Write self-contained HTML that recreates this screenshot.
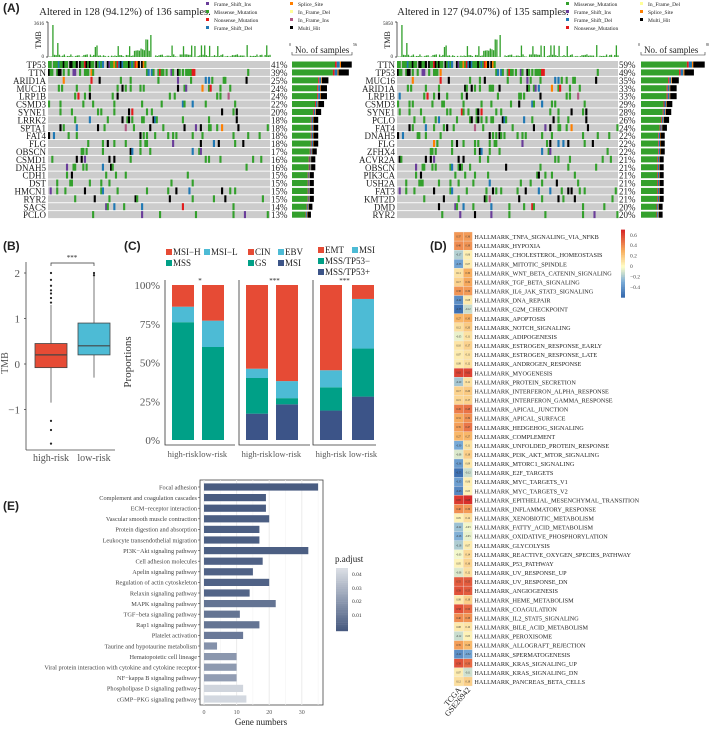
<!DOCTYPE html>
<html><head><meta charset="utf-8"><style>
html,body{margin:0;padding:0;background:#fff;}
svg{display:block;font-family:"Liberation Serif",serif;}
.pl{font-family:"Liberation Sans",sans-serif;font-weight:bold;font-size:12px;}
</style></head><body>
<svg id="fig" width="709" height="729" viewBox="0 0 709 729" xmlns="http://www.w3.org/2000/svg"></svg>
<script>
// ---------- data ----------
const genesA=["TP53","TTN","ARID1A","MUC16","LRP1B","CSMD3","SYNE1","LRRK2","SPTA1","FAT4","FLG","OBSCN","CSMD1","DNAH5","CDH1","DST","HMCN1","RYR2","SACS","PCLO"];
const pctA=[41,39,25,24,24,22,20,18,18,18,18,17,16,16,15,15,15,15,14,13];
const genesB=["TTN","TP53","MUC16","ARID1A","LRP1B","CSMD3","SYNE1","PCLO","FAT4","DNAH5","FLG","ZFHX4","ACVR2A","OBSCN","PIK3CA","USH2A","FAT3","KMT2D","DMD","RYR2"];
const pctB=[59,49,35,33,33,29,28,26,24,22,22,22,21,21,21,21,21,21,20,20];
const boxHigh=[-0.85,-0.08,0.2,0.45,1.3];
const boxLow=[-0.3,0.2,0.4,0.9,2.0];
const outHigh=[1.35,1.45,1.55,1.62,1.72,1.85,2.0,-1.25,-1.45,-1.75];
const c1High=[0.76,0.10,0.14], c1Low=[0.60,0.17,0.23];
const c2High=[0.17,0.23,0.06,0.54], c2Low=[0.23,0.04,0.11,0.62];
const c3High=[0.19,0.15,0.11,0.55], c3Low=[0.28,0.31,0.32,0.09];
const hallmarks=["TNFA_SIGNALING_VIA_NFKB","HYPOXIA","CHOLESTEROL_HOMEOSTASIS","MITOTIC_SPINDLE","WNT_BETA_CATENIN_SIGNALING","TGF_BETA_SIGNALING","IL6_JAK_STAT3_SIGNALING","DNA_REPAIR","G2M_CHECKPOINT","APOPTOSIS","NOTCH_SIGNALING","ADIPOGENESIS","ESTROGEN_RESPONSE_EARLY","ESTROGEN_RESPONSE_LATE","ANDROGEN_RESPONSE","MYOGENESIS","PROTEIN_SECRETION","INTERFERON_ALPHA_RESPONSE","INTERFERON_GAMMA_RESPONSE","APICAL_JUNCTION","APICAL_SURFACE","HEDGEHOG_SIGNALING","COMPLEMENT","UNFOLDED_PROTEIN_RESPONSE","PI3K_AKT_MTOR_SIGNALING","MTORC1_SIGNALING","E2F_TARGETS","MYC_TARGETS_V1","MYC_TARGETS_V2","EPITHELIAL_MESENCHYMAL_TRANSITION","INFLAMMATORY_RESPONSE","XENOBIOTIC_METABOLISM","FATTY_ACID_METABOLISM","OXIDATIVE_PHOSPHORYLATION","GLYCOLYSIS","REACTIVE_OXYGEN_SPECIES_PATHWAY","P53_PATHWAY","UV_RESPONSE_UP","UV_RESPONSE_DN","ANGIOGENESIS","HEME_METABOLISM","COAGULATION","IL2_STAT5_SIGNALING","BILE_ACID_METABOLISM","PEROXISOME","ALLOGRAFT_REJECTION","SPERMATOGENESIS","KRAS_SIGNALING_UP","KRAS_SIGNALING_DN","PANCREAS_BETA_CELLS"];
const tcga=[0.37,0.40,-0.17,-0.33,0.11,0.17,0.38,-0.42,-0.55,0.27,0.12,-0.05,0.10,0.07,0.08,0.62,-0.20,0.17,0.15,0.45,0.31,0.35,0.27,-0.30,-0.08,-0.36,-0.55,-0.35,-0.45,0.65,0.40,0.05,-0.22,-0.28,-0.18,-0.03,0.05,-0.08,0.55,0.58,0.08,0.58,0.40,0.08,-0.12,0.35,-0.42,0.58,0.07,0.12];
const gse=[0.36,0.38,0.06,0.07,0.30,0.32,0.36,0.08,-0.12,0.30,0.20,0.11,0.17,0.11,0.12,0.62,0.11,0.20,0.17,0.48,0.39,0.47,0.27,0.11,0.18,0.09,-0.12,0.06,0.05,0.68,0.36,0.12,-0.03,-0.05,0.07,0.14,0.16,0.12,0.55,0.55,0.18,0.50,0.38,0.10,0.05,0.26,-0.32,0.50,-0.11,0.18];
const pathways=["Focal adhesion","Complement and coagulation cascades","ECM−receptor interaction","Vascular smooth muscle contraction","Protein digestion and absorption","Leukocyte transendothelial migration","PI3K−Akt signaling pathway","Cell adhesion molecules","Apelin signaling pathway","Regulation of actin cytoskeleton","Relaxin signaling pathway","MAPK signaling pathway","TGF−beta signaling pathway","Rap1 signaling pathway","Platelet activation","Taurine and hypotaurine metabolism","Hematopoietic cell lineage","Viral protein interaction with cytokine and cytokine receptor","NF−kappa B signaling pathway","Phospholipase D signaling pathway","cGMP−PKG signaling pathway"];
const geneCounts=[35,19,19,20,17,17,32,18,15,20,14,22,11,17,12,4,10,10,10,12,13];
const padj=[0.004,0.004,0.004,0.005,0.005,0.005,0.005,0.006,0.006,0.006,0.007,0.012,0.012,0.012,0.014,0.022,0.024,0.025,0.026,0.045,0.046];

// ---------- helpers ----------
const svg=document.getElementById('fig');
const NS="http://www.w3.org/2000/svg";
function mk(tag,attrs,parent){const e=document.createElementNS(NS,tag);for(const k in attrs)e.setAttribute(k,attrs[k]);(parent||svg).appendChild(e);return e;}
function txt(x,y,s,attrs,parent){const e=mk('text',Object.assign({x:x,y:y,fill:'#222'},attrs||{}),parent);e.textContent=s;return e;}
function grp(name){const g=mk('g',{});return g;}
function hash(a,b){let h=(a*374761393+b*668265263)|0;h=(h^(h>>>13))*1274126177|0;h=h^(h>>>16);return ((h>>>0)%10000)/10000;}

// ---------- Panel A oncoplots ----------
const mutCols={mis:'#33A02C',multi:'#000000',fsd:'#1F78B4',non:'#E31A1C',fsi:'#6A3D9A',ss:'#FF7F00',ifd:'#FFFF99',ifi:'#B15982'};
function oncoplot(id,gx0,gx1,genes,pcts,nS,maxN,title,titleX,legend,tmbMax,sbx0,sbx1){
  const g=grp('oncoplot-'+id);
  const y0=61,rh=7.9,cw=(gx1-gx0)/nS;
  txt(titleX,15,title,{'font-size':10.5,'text-anchor':'middle'},g);
  legend.forEach(l=>{const lx=l[2],ly=l[3];
    mk('rect',{x:lx,y:ly-4,width:3,height:3,fill:mutCols[l[0]]},g);
    txt(lx+8,ly,l[1],{'font-size':5.5},g);});
  const tg=grp('tmb-bars-'+id);g.appendChild(tg);
  mk('line',{x1:gx0,y1:22,x2:gx0,y2:57,stroke:'#333','stroke-width':0.8},tg);
  mk('line',{x1:gx0-2,y1:22,x2:gx0,y2:22,stroke:'#333','stroke-width':0.8},tg);
  mk('line',{x1:gx0-2,y1:57,x2:gx0,y2:57,stroke:'#333','stroke-width':0.8},tg);
  txt(gx0-4,25,String(tmbMax),{'font-size':5,'text-anchor':'end'},tg);
  txt(gx0-4,58,'0',{'font-size':5,'text-anchor':'end'},tg);
  txt(0,0,'TMB',{'font-size':8,'text-anchor':'middle',transform:`translate(${gx0-7},40) rotate(-90)`},tg);
  for(let s=0;s<nS;s++){let v=hash(s,7);let h=v<0.9?v*3:v*12;if(s<nS*0.45&&s>nS*0.38)h+=6;if(s===2)h=32;if(s===62)h=22;if(s===5)h=14;if(s===28)h=10;
    const b=mk('rect',{x:gx0+1+s*cw,y:57-h,width:cw*0.8,height:h,fill:'#33A02C'},tg);
    }
  genes.forEach((gn,i)=>{
    const y=y0+i*rh;
    const rg=grp('oncoplot-row-'+gn.toLowerCase());g.appendChild(rg);
    mk('rect',{x:gx0,y:y,width:gx1-gx0,height:rh-0.9,fill:'#CCCCCC'},rg);
    const p=pcts[i]/100;
    for(let s=0;s<nS;s++){
      let prob;
      if(i===0) prob=(s<nS*0.44)?0.9:0.0;
      else if(i===1) prob=(s<nS*0.2)?0.6:(s>nS*0.44&&s<nS*0.66)?0.75:0.01;
      else prob=(s<nS*0.44)?p*0.55:(s<nS*0.75?p*0.5:p*0.25);
      if(hash(s,i*31+3)<prob){
        const r=hash(s,i*17+9);const c=r<0.62?'mis':r<0.82?'multi':r<0.9?'fsd':r<0.94?'non':r<0.97?'fsi':r<0.99?'ss':'ifi';
        mk('rect',{x:gx0+s*cw,y:y,width:cw*1.3,height:rh-0.9,fill:mutCols[c]},rg);}
    }
    txt(gx0-2,y+rh-0.8,gn,{'font-size':9,'text-anchor':'end'},rg);
    txt(gx1+1,y+rh-0.8,pcts[i]+'%',{'font-size':9},rg);
    const n=pcts[i]/100*nS;const w=(sbx1-sbx0)*n/maxN;
    const segs=[['mis',0.72],['non',0.03],['fsd',0.05],['ss',0.02],['multi',0.18]];
    let cx=sbx0;
    const sb=mk('g',{},rg);
    segs.forEach(sg=>{const ww=w*sg[1];mk('rect',{x:cx,y:y+0.5,width:ww,height:rh-1.8,fill:mutCols[sg[0]]},sb);cx+=ww;});
  });
  mk('path',{d:`M${sbx0},52 v3 h${sbx1-sbx0} v-3`,fill:'none',stroke:'#333','stroke-width':0.6},g);
  txt(sbx0-3,46,'0',{'font-size':4},g);txt(sbx1+1,46,String(maxN),{'font-size':4},g);
  txt(sbx0+3,53,'No. of samples',{'font-size':9},g);
}
txt(3,12,'(A)',{class:'pl'});
oncoplot('tcga',48,270,genesA,pctA,136,56,'Altered in 128 (94.12%) of 136 samples.',125,
 [['fsi','Frame_Shift_Ins',206,6],['mis','Missense_Mutation',206,14],['non','Nonsense_Mutation',206,22],['fsd','Frame_Shift_Del',206,30],
  ['ss','Splice_Site',290,6],['ifd','In_Frame_Del',290,14],['ifi','In_Frame_Ins',290,22],['multi','Multi_Hit',290,30]],3616,292,352);
oncoplot('gse',397,618,genesB,pctB,135,80,'Altered in 127 (94.07%) of 135 samples.',483,
 [['mis','Missense_Mutation',566,6],['fsi','Frame_Shift_Ins',566,14],['fsd','Frame_Shift_Del',566,22],['non','Nonsense_Mutation',566,30],
  ['ifd','In_Frame_Del',640,6],['ss','Splice_Site',640,14],['multi','Multi_Hit',640,22]],5850,641,705);

// ---------- Panel B ----------
txt(3,250,'(B)',{class:'pl'});
(function(){
  const g=grp('tmb-boxplot');
  const ys=v=>364-v*45.5;
  mk('line',{x1:26,y1:262,x2:26,y2:450,stroke:'#444','stroke-width':0.8},g);
  mk('line',{x1:26,y1:450,x2:115,y2:450,stroke:'#444','stroke-width':0.8},g);
  [2,1,0,-1].forEach(t=>{txt(20,ys(t)+4,t===-1?'−1':String(t),{'font-size':11,'text-anchor':'end',fill:'#555'},g);
    mk('line',{x1:24,y1:ys(t),x2:26,y2:ys(t),stroke:'#444','stroke-width':0.8},g);});
  txt(0,0,'TMB',{'font-size':10,'text-anchor':'middle',fill:'#555',transform:'translate(8,363) rotate(-90)'},g);
  function box(b,cx,col,name){const bg=grp(name);g.appendChild(bg);
    mk('line',{x1:cx,y1:ys(b[0]),x2:cx,y2:ys(b[4]),stroke:'#555','stroke-width':0.8},bg);
    mk('rect',{x:cx-16,y:ys(b[3]),width:32,height:ys(b[1])-ys(b[3]),fill:col,stroke:'#444','stroke-width':0.8},bg);
    mk('line',{x1:cx-16,y1:ys(b[2]),x2:cx+16,y2:ys(b[2]),stroke:'#444','stroke-width':1.2},bg);}
  box(boxHigh,51,'#E64B35','box-high-risk');box(boxLow,94,'#4DBBD5','box-low-risk');
  outHigh.forEach(o=>{const c=mk('circle',{cx:51,cy:ys(o),r:1.1,fill:'#222'},g);});
  mk('circle',{cx:94,cy:ys(2.0),r:1.1,fill:'#222'},g);mk('circle',{cx:94,cy:ys(1.95),r:1.1,fill:'#222'},g);
  txt(51,461,'high-risk',{'font-size':10,'text-anchor':'middle',fill:'#555'},g);
  txt(94,461,'low-risk',{'font-size':10,'text-anchor':'middle',fill:'#555'},g);
  mk('path',{d:'M51,266 v-3 h43 v3',fill:'none',stroke:'#333','stroke-width':0.7},g);
  txt(72,260,'***',{'font-size':7,'text-anchor':'middle'},g);
})();

// ---------- Panel C ----------
txt(124,250,'(C)',{class:'pl'});
(function(){
  const g=grp('subtype-proportions');
  const y100=285,y0=440,ys=v=>y0-v*(y0-y100);
  [0,0.25,0.5,0.75,1].forEach(t=>txt(160,ys(t)+4,(t*100)+'%',{'font-size':11,'text-anchor':'end',fill:'#555'},g));
  txt(0,0,'Proportions',{'font-size':11,'text-anchor':'middle',fill:'#333',transform:'translate(131,362) rotate(-90)'},g);
  const C={r:'#E64B35',b:'#4DBBD5',t:'#00A087',n:'#3C5488'};
  const groups=[
    {ax:165,x1:235,bars:[[172,c1High],[202,c1Low]],cols:[C.t,C.b,C.r],star:'*',leg:[[C.r,'MSI−H',166,255],[C.b,'MSI−L',204,255],[C.t,'MSS',166,266]]},
    {ax:239,x1:310,bars:[[246,c2High],[276,c2Low]],cols:[C.n,C.t,C.b,C.r],star:'***',leg:[[C.r,'CIN',248,255],[C.b,'EBV',278,255],[C.t,'GS',248,266],[C.n,'MSI',278,266]]},
    {ax:313,x1:376,bars:[[320,c3High],[352,c3Low]],cols:[C.n,C.t,C.b,C.r],star:'***',leg:[[C.r,'EMT',318,253],[C.b,'MSI',352,253],[C.t,'MSS/TP53−',318,264],[C.n,'MSS/TP53+',318,275]]}];
  groups.forEach((gr,gi)=>{
    const gg=grp('proportion-group-'+(gi+1));g.appendChild(gg);
    mk('path',{d:`M${gr.ax},280 V${y0+5} H${gr.x1}`,fill:'none',stroke:'#333','stroke-width':0.8},gg);
    txt((gr.ax+gr.x1)/2,283,gr.star,{'font-size':7,'text-anchor':'middle'},gg);
    gr.leg.forEach(l=>{mk('rect',{x:l[2],y:l[3]-6,width:6,height:6,fill:l[0]},gg);txt(l[2]+7,l[3],l[1],{'font-size':9},gg);});
    gr.bars.forEach((b,bi)=>{let acc=0;
      b[1].forEach((v,k)=>{const r=mk('rect',{x:b[0],y:ys(acc+v),width:22,height:ys(acc)-ys(acc+v),fill:gr.cols[k]},gg);
        acc+=v;});
      txt(b[0]+11,457,bi?'low-risk':'high-risk',{'font-size':8.5,'text-anchor':'middle',fill:'#555'},gg);});
  });
})();

// ---------- Panel D ----------
txt(430,250,'(D)',{class:'pl'});
(function(){
  const g=grp('hallmark-heatmap');
  const y0=232,rh=9.08,x0=454,cw=9.2;
  function col(v){const stops=[[-0.6,[49,100,170]],[-0.3,[120,170,215]],[0,[255,255,200]],[0.3,[248,175,95]],[0.7,[215,40,40]]];
    v=Math.max(-0.6,Math.min(0.7,v));for(let i=0;i<stops.length-1;i++){const a=stops[i],b=stops[i+1];if(v<=b[0]){const t=(v-a[0])/(b[0]-a[0]);
      return 'rgb('+a[1].map((c,k)=>Math.round(c+(b[1][k]-c)*t)).join(',')+')';}}return 'rgb(215,40,40)';}
  hallmarks.forEach((h,i)=>{const y=y0+i*rh;
    [tcga[i],gse[i]].forEach((v,j)=>{const r=mk('rect',{x:x0+j*cw,y:y,width:cw,height:rh,fill:col(v),stroke:'#eee','stroke-width':0.3},g);
      
      txt(x0+j*cw+cw/2,y+rh/2+1,v.toFixed(2),{'font-size':2.6,'text-anchor':'middle',fill:'#333'},g);});
    txt(x0+2*cw+2,y+rh-2,'HALLMARK_'+h,{'font-size':6.2,fill:'#222'},g);});
  txt(0,0,'TCGA',{'font-size':8,'text-anchor':'end',transform:`translate(${x0+cw/2+3},${y0+50*rh+4}) rotate(-50)`},g);
  txt(0,0,'GSE26942',{'font-size':8,'text-anchor':'end',transform:`translate(${x0+cw*1.5+3},${y0+50*rh+4}) rotate(-50)`},g);
  const cb=grp('heatmap-colorbar');g.appendChild(cb);
  const cy=v=>266-v*52;
  for(let k=0;k<40;k++){const v=0.7-k*(1.3/40);mk('rect',{x:621,y:cy(v),width:4,height:1.3/40*52+0.5,fill:col(v)},cb);}
  [0.6,0.4,0.2,0,-0.2,-0.4].forEach(t=>txt(630,cy(t)+2,t<0?'−'+Math.abs(t):String(t),{'font-size':5.5,fill:'#444'},cb));
})();

// ---------- Panel E ----------
txt(3,510,'(E)',{class:'pl'});
(function(){
  const g=grp('kegg-enrichment-bars');
  const fx0=200,fx1=323,fy0=480,fy1=705,xs=v=>204+v*3.26,rh=(699-487)/20;
  mk('rect',{x:fx0,y:fy0,width:fx1-fx0,height:fy1-fy0,fill:'#fff',stroke:'#444','stroke-width':0.8},g);
  [0,10,20,30].forEach(t=>{mk('line',{x1:xs(t),y1:fy0,x2:xs(t),y2:fy1,stroke:'#ebebeb','stroke-width':1},g);
    txt(xs(t),714,String(t),{'font-size':6,'text-anchor':'middle',fill:'#555'},g);});
  [5,15,25,35].forEach(t=>mk('line',{x1:xs(t),y1:fy0,x2:xs(t),y2:fy1,stroke:'#f4f4f4','stroke-width':0.6},g));
  function pc(p){const t=Math.min(1,p/0.048);const a=[60,80,120],b=[218,222,228];return 'rgb('+a.map((c,k)=>Math.round(c+(b[k]-c)*t)).join(',')+')';}
  pathways.forEach((p,i)=>{const y=487+i*rh;
    mk('line',{x1:fx0-2,y1:y,x2:fx0,y2:y,stroke:'#444','stroke-width':0.6},g);
    const r=mk('rect',{x:xs(0),y:y-3.6,width:xs(geneCounts[i])-xs(0),height:7.2,fill:pc(padj[i])},g);
    
    txt(fx0-3,y+2.3,p,{'font-size':6.3,'text-anchor':'end',fill:'#444'},g);});
  txt(261,725,'Gene numbers',{'font-size':9,'text-anchor':'middle'},g);
  const lg=grp('padjust-legend');g.appendChild(lg);
  txt(335,562,'p.adjust',{'font-size':9},lg);
  for(let k=0;k<30;k++){const p=0.048-k*0.046/30;mk('rect',{x:336,y:568+k*2.1,width:12,height:2.3,fill:pc(p)},lg);}
  [[0.04,576],[0.03,590],[0.02,603],[0.01,617]].forEach(l=>txt(352,l[1],String(l[0]),{'font-size':5.5,fill:'#333'},lg));
})();
</script>
</body></html>
